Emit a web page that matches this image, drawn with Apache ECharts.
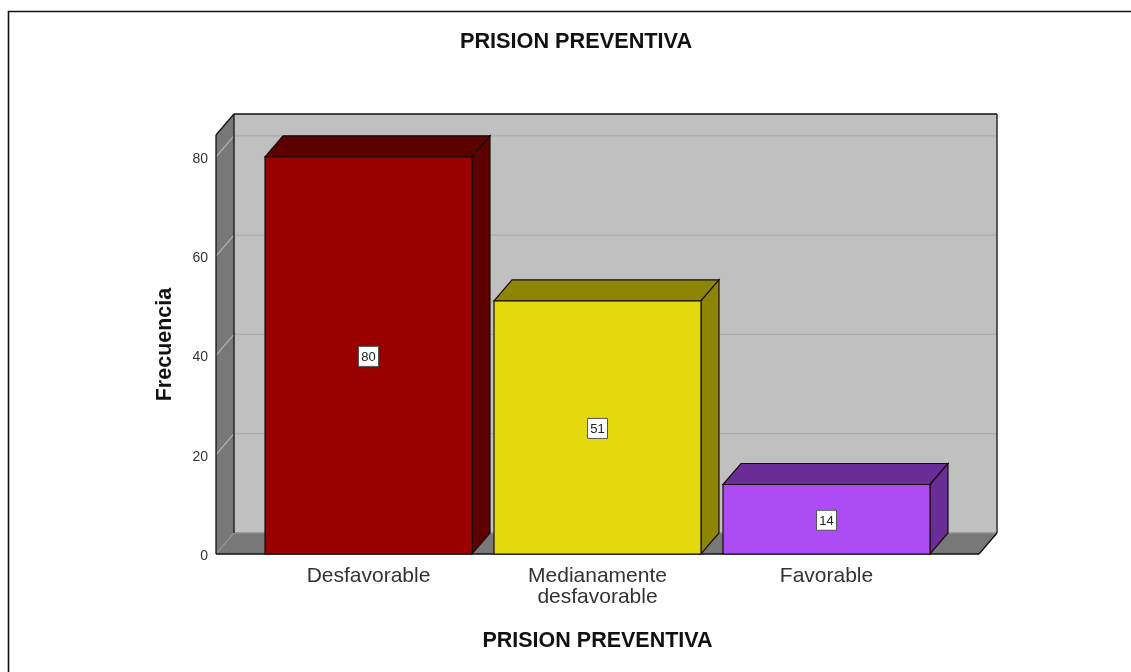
<!DOCTYPE html>
<html><head><meta charset="utf-8">
<style>html,body{margin:0;padding:0;background:#fff}#c{width:1131px;height:672px}</style>
<script src="https://cdn.jsdelivr.net/npm/echarts@6/dist/echarts.min.js"></script>
</head><body><div id="c"></div>
<script>
const categories = ['Desfavorable', 'Medianamente\ndesfavorable', 'Favorable'];
const frecuencia = [80, 51, 14];
const faceColors = ['#990000', '#e3d90d', '#ad4cf5'];
const sideColors = ['#5c0000', '#8c8505', '#6a2c96'];
const yTicks = [0, 20, 40, 60, 80];
const yMax = 84.4;
const FONT = '"Liberation Sans", Arial, sans-serif';
const DX = 18, DY = -21, PAD = 38;
const chart = echarts.init(document.getElementById('c'), null, {renderer:'canvas'});

function poly(points, fill, stroke, lw, z2) {
  return {type:'polygon', z2: z2||0, shape:{points},
    style:{fill: fill||'none', stroke: stroke||'none', lineWidth: lw==null?1.2:lw}};
}
function line(p, q, stroke, lw, z2) {
  return {type:'line', z2: z2||0, shape:{x1:p[0],y1:p[1],x2:q[0],y2:q[1]}, style:{stroke, lineWidth:lw||1}};
}
function renderWalls(params, api) {
  const cs = params.coordSys;
  const xl = cs.x - PAD, xr = cs.x + cs.width + PAD;
  const y0 = api.coord([0, 0])[1], yt = api.coord([0, yMax])[1];
  const children = [
    poly([[xl+DX,yt+DY],[xr+DX,yt+DY],[xr+DX,y0+DY],[xl+DX,y0+DY]], '#c0c0c0'),
    poly([[xl,yt],[xl+DX,yt+DY],[xl+DX,y0+DY],[xl,y0]], '#787878'),
    poly([[xl,y0],[xl+DX,y0+DY],[xr+DX,y0+DY],[xr,y0]], '#787878')
  ];
  yTicks.slice(1).forEach(t => {
    const y = api.coord([0, t])[1];
    children.push(line([xl+DX,y+DY],[xr+DX,y+DY],'#adadad',1.2));
    children.push(line([xl,y],[xl+DX,y+DY],'#b4b4b4',1.2));
  });
  children.push(line([xl,y0],[xl+DX,y0+DY],'#a0a0a0',1));
  children.push(line([xl+DX,y0+DY],[xr+DX,y0+DY],'#8f8f8f',1.5));
  children.push(line([xl,yt],[xl+DX,yt+DY],'#111',1.3));
  children.push(line([xl+DX,yt+DY],[xr+DX,yt+DY],'#111',1.3));
  children.push(line([xl+DX,yt+DY],[xl+DX,y0+DY],'#111',1.3));
  children.push(line([xl,yt],[xl,y0],'#111',1.3));
  children.push(line([xr+DX,yt+DY],[xr+DX,y0+DY],'#111',1.3));
  children.push(line([xr+DX,y0+DY],[xr,y0],'#111',1.3));
  children.push(line([xl,y0],[xr,y0],'#111',1.5));
  return {type:'group', children};
}
function renderBar(params, api) {
  const i = api.value(0), v = api.value(1);
  const c = api.coord([i, v]), b = api.coord([i, 0]);
  const w = api.size([1, 0])[0] * 207 / 229;
  const l = c[0] - w/2, r = c[0] + w/2, t = c[1], y0 = b[1];
  const st = '#1a0a0a';
  const mid = (t + y0) / 2 + 1;
  return {type:'group', children:[
    poly([[l,t],[l+DX,t+DY],[r+DX,t+DY],[r,t]], sideColors[i], st),
    poly([[r,t],[r+DX,t+DY],[r+DX,y0+DY],[r,y0]], sideColors[i], st),
    poly([[l,t],[r,t],[r,y0],[l,y0]], faceColors[i], st),
    {type:'rect', shape:{x:c[0]-10, y:mid-10, width:20, height:20},
      style:{fill:'#fff', stroke:'#555', lineWidth:1}},
    {type:'text', style:{x:c[0], y:mid+1, text:String(v), align:'center', verticalAlign:'middle',
      font:'13px '+FONT, fill:'#222'}}
  ]};
}
chart.setOption({
  animation:false,
  backgroundColor:'#fff',
  title:{text:'PRISION PREVENTIVA', left:571, top:26, textAlign:'center', textStyle:{fontFamily:FONT, fontWeight:'bold', fontSize:21.7, lineHeight:22, color:'#111'}},
  grid:{left:254, width:687, top:135, height:419},
  xAxis:{type:'category', data:categories, axisLine:{show:false}, axisTick:{show:false},
    splitLine:{show:false},
    axisLabel:{fontFamily:FONT, fontSize:21, color:'#333', margin:12, lineHeight:21, interval:0},
    name:'PRISION PREVENTIVA', nameLocation:'middle', nameGap:76,
    nameTextStyle:{fontFamily:FONT, fontWeight:'bold', fontSize:21.5, color:'#111', lineHeight:22}},
  yAxis:{type:'value', min:0, max:yMax, interval:20, offset:38,
    axisLine:{show:false}, axisTick:{show:false}, splitLine:{show:false},
    axisLabel:{fontFamily:FONT, fontSize:14, color:'#333', margin:8, customValues:yTicks,
      formatter:'{a|{value}}',
      rich:{a:{fontFamily:FONT, fontSize:14, color:'#333', lineHeight:16, padding:[4,0,0,0]}}},
    name:'Frecuencia', nameLocation:'middle', nameGap:40, nameRotate:90,
    nameTextStyle:{fontFamily:FONT, fontWeight:'bold', fontSize:21.5, color:'#111'}},
  graphic:[{type:'polyline', silent:true, z:100,
    shape:{points:[[8.5,672],[8.5,11.5],[1131,11.5]]},
    style:{fill:'none', stroke:'#111', lineWidth:1.6}}],
  series:[
    {type:'custom', z:1, renderItem:renderWalls, data:[[0,0]], silent:true, clip:false},
    {type:'custom', z:2, renderItem:renderBar, data:frecuencia.map((v,i)=>[i,v]), clip:false,
      encode:{x:0,y:1}}
  ]
});
</script></body></html>
